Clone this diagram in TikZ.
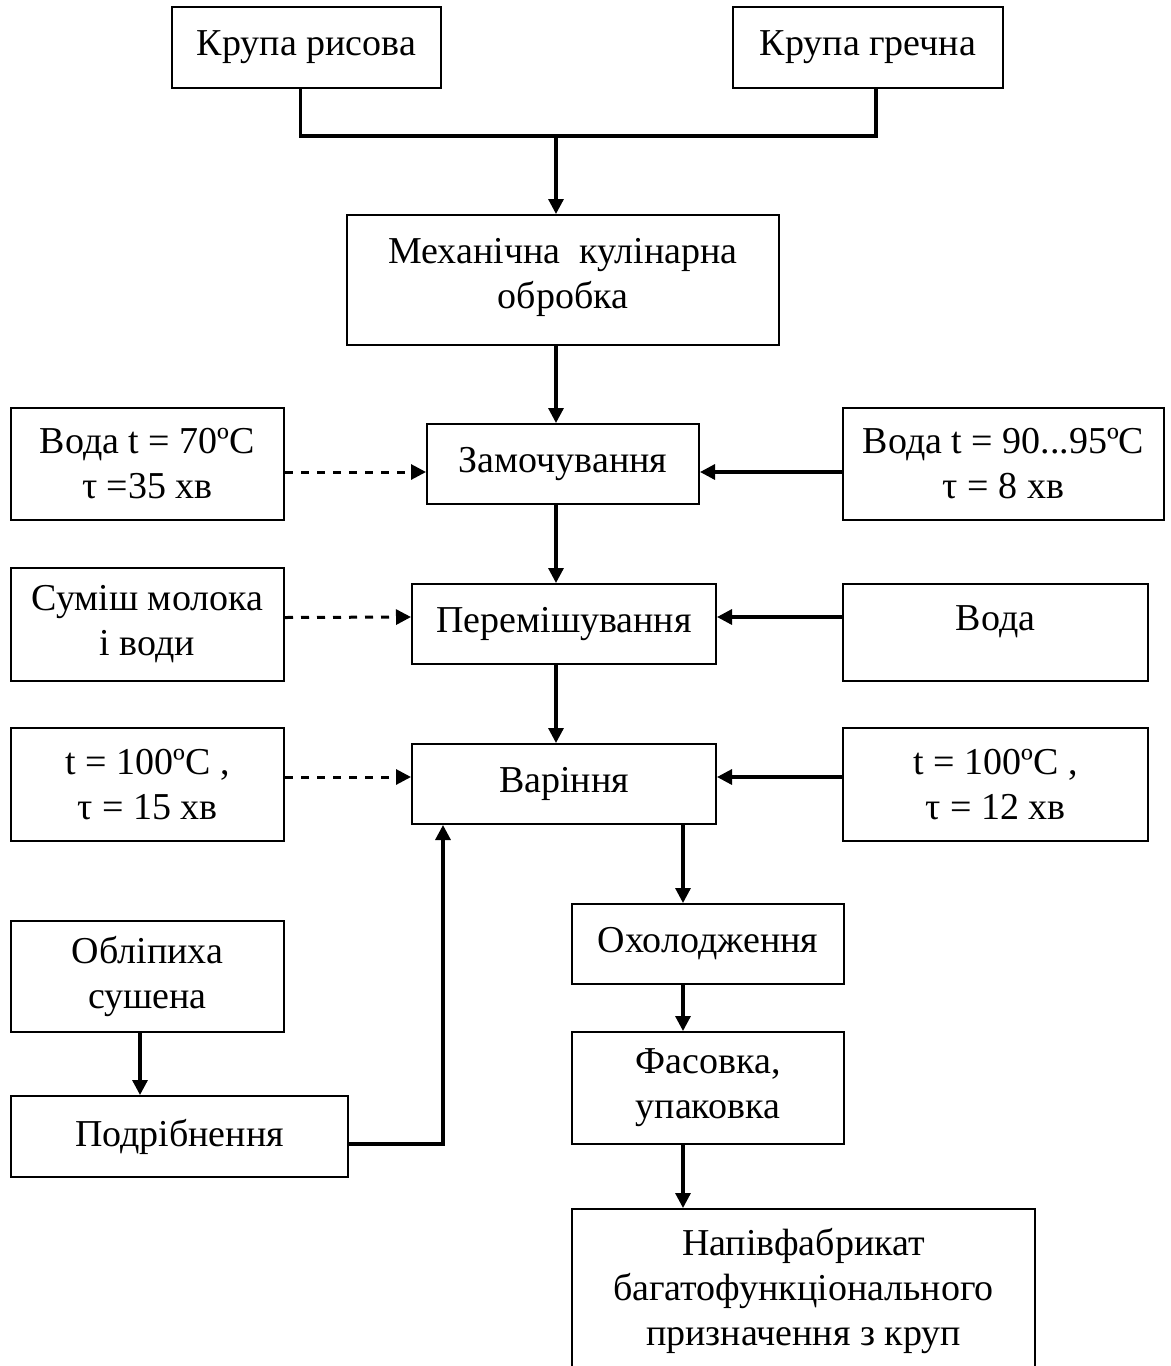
\documentclass[tikz,border=0pt]{standalone}
\usepackage{fontspec}
\setmainfont{Liberation Serif}
\usetikzlibrary{arrows.meta}

\begin{document}
\begin{tikzpicture}[x=0.5pt, y=-0.5pt, black, line width = 1.6pt,
    >={Triangle[length=7.5pt, width=7.5pt]},
    box/.style={draw, rectangle, fill = white, line width = 1pt, align = center,
        inner sep = 0pt, font = \fontsize{19}{22.5}\selectfont},
    feed/.style={->, line width = 1.5pt, dash pattern = on 4pt off 4pt}]

    \useasboundingbox (0,0) rectangle (1171,1366);

    % main column
    \node (rice)  at (306.5,47.5) [box, minimum width = 134.5pt, minimum height = 40.5pt] {Крупа рисова};
    \node (grech) at (868,47.5)   [box, minimum width = 135pt, minimum height = 40.5pt] {Крупа гречна};
    \node (mech)  at (563,280)    [box, minimum width = 216pt, minimum height = 65pt, text depth = 7pt] {Механічна\ \ кулінарна\\обробка};
    \node (zam)   at (563,464)    [box, minimum width = 136pt, minimum height = 40pt] {Замочування};
    \node (per)   at (564,624)    [box, minimum width = 152pt, minimum height = 40pt] {Перемішування};
    \node (var)   at (564,784)    [box, minimum width = 152pt, minimum height = 40pt] {Варіння};
    \node (okh)   at (708,944)    [box, minimum width = 136pt, minimum height = 40pt] {Охолодження};
    \node (fas)   at (708,1088)   [box, minimum width = 136pt, minimum height = 56pt] {Фасовка,\\упаковка};
    \node (nap)   at (803.5,1291) [box, minimum width = 231.5pt, minimum height = 82pt] {Напівфабрикат\\багатофункціонального\\призначення з круп};

    % left inputs
    \node (wl)  at (147.5,464)   [box, minimum width = 136.5pt, minimum height = 56pt] {Вода t = 70ºC\\τ =35 хв};
    \node (mix) at (147.5,624.5) [box, minimum width = 136.5pt, minimum height = 56.5pt] {Суміш молока\\і води};
    \node (tl)  at (147.5,784.5) [box, minimum width = 136.5pt, minimum height = 56.5pt] {t = 100ºC ,\\τ = 15 хв};
    \node (obl) at (147.5,976.5) [box, minimum width = 136.5pt, minimum height = 55.5pt] {Обліпиха\\сушена};
    \node (pod) at (179.5,1136.5) [box, minimum width = 168.5pt, minimum height = 40.5pt] {Подрібнення};

    % right inputs
    \node (wr)   at (1003.5,464) [box, minimum width = 160.5pt, minimum height = 56pt] {Вода t = 90...95ºC\\τ = 8 хв};
    \node (voda) at (995.5,632.5) [box, minimum width = 152.5pt, minimum height = 48.5pt, text depth = 14pt] {Вода};
    \node (tr)   at (995.5,784.5) [box, minimum width = 152.5pt, minimum height = 56.5pt] {t = 100ºC ,\\τ = 12 хв};

    \coordinate (J) at (556,136);
    \coordinate (C) at (683,900);
    \coordinate (B) at (140,1060);
    \coordinate (U) at (443,1144);

    \draw ([xshift=-3pt]rice.south) |- (J) -| ([xshift=4pt]grech.south);
    \draw[->] (J) -- (J |- mech.north);
    \draw[->] (mech.south -| J) -- (zam.north -| J);
    \draw[->] (zam.south -| J) -- (per.north -| J);
    \draw[->] (per.south -| J) -- (var.north -| J);

    \draw[->] (var.south -| C) -- (okh.north -| C);
    \draw[->] (okh.south -| C) -- (fas.north -| C);
    \draw[->] (fas.south -| C) -- (nap.north -| C);

    \draw[feed] ([yshift=-4pt]wl.east) -- ([yshift=-4pt]zam.west);
    \draw[feed] ([yshift=3.5pt]mix.east -| wl.east) -- ([yshift=3.5pt]per.west);
    \draw[feed] ([yshift=3.5pt]var.west -| tl.east) -- ([yshift=3.5pt]var.west);

    \draw[->] ([yshift=-4pt]wr.west) -- ([yshift=-4pt]zam.east);
    \draw[->] ([yshift=3.5pt]per.east -| voda.west) -- ([yshift=3.5pt]per.east);
    \draw[->] ([yshift=3.5pt]var.east -| tr.west) -- ([yshift=3.5pt]var.east);

    \draw[->] (obl.south -| B) -- (pod.north -| B);
    \draw[->] (pod.east |- U) -| (var.south -| U);

\end{tikzpicture}
\end{document}
